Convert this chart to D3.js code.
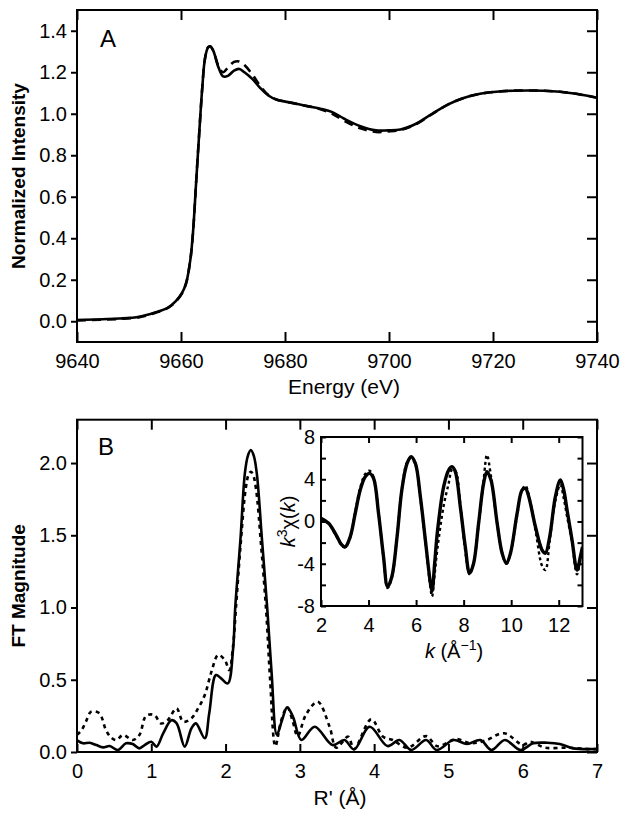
<!DOCTYPE html>
<html><head><meta charset="utf-8">
<script src="https://cdn.jsdelivr.net/npm/d3@7"></script>
<style>
body{margin:0;background:#fff;}
text{font-family:"Liberation Sans",Arial,Helvetica,sans-serif;fill:#000;}
</style></head>
<body>
<svg id="c" width="628" height="818"></svg>
<script>
// ---------- Panel A: XANES ----------
const energyA = [9640, 9648, 9652, 9655, 9657.5, 9659, 9660.2, 9661, 9661.8, 9662.3, 9662.9, 9663.5, 9664.1, 9664.6, 9665.2, 9665.6, 9666.2, 9667.2, 9668.1, 9669.1, 9670.2, 9671.2, 9672.2, 9673.7, 9675.2, 9676.8, 9678.3, 9680.6, 9683.7, 9686.8, 9689.1, 9691.4, 9694.5, 9697.5, 9699.8, 9702.2, 9705.2, 9708.3, 9711.4, 9714.5, 9717.5, 9720.6, 9723.7, 9726.8, 9729.8, 9732.9, 9736, 9740];
const solidA = [0.006, 0.013, 0.022, 0.042, 0.066, 0.097, 0.137, 0.185, 0.297, 0.425, 0.665, 0.905, 1.128, 1.264, 1.32, 1.325, 1.304, 1.224, 1.18, 1.184, 1.208, 1.216, 1.2, 1.168, 1.125, 1.088, 1.069, 1.056, 1.04, 1.024, 1.008, 0.976, 0.94, 0.92, 0.92, 0.924, 0.952, 1.0, 1.045, 1.077, 1.096, 1.106, 1.111, 1.112, 1.111, 1.106, 1.096, 1.077];
const dashedA = [0.004, 0.011, 0.02, 0.04, 0.064, 0.095, 0.135, 0.185, 0.297, 0.425, 0.665, 0.905, 1.128, 1.264, 1.32, 1.325, 1.304, 1.23, 1.2, 1.225, 1.25, 1.252, 1.235, 1.19, 1.135, 1.09, 1.069, 1.056, 1.04, 1.022, 1.0, 0.966, 0.93, 0.912, 0.915, 0.922, 0.95, 0.998, 1.045, 1.077, 1.096, 1.106, 1.111, 1.112, 1.111, 1.106, 1.096, 1.077];
const xTicksA = [9640, 9660, 9680, 9700, 9720, 9740];
const yTicksA = [0.0, 0.2, 0.4, 0.6, 0.8, 1.0, 1.2, 1.4];

// ---------- Panel B: FT magnitude ----------
const rSolid = [0, 0.08, 0.17, 0.26, 0.35, 0.44, 0.55, 0.66, 0.75, 0.84, 0.91, 1.0, 1.07, 1.16, 1.27, 1.34, 1.45, 1.54, 1.6, 1.72, 1.78, 1.87, 1.94, 2.03, 2.1, 2.13, 2.2, 2.26, 2.3, 2.34, 2.38, 2.42, 2.49, 2.56, 2.62, 2.69, 2.76, 2.83, 2.91, 3.02, 3.2, 3.44, 3.6, 3.73, 3.94, 4.18, 4.34, 4.5, 4.7, 4.84, 5.07, 5.25, 5.43, 5.58, 5.76, 5.97, 6.14, 6.33, 6.5, 6.68, 6.95, 7.0];
const ftSolid = [0.08, 0.06, 0.064, 0.048, 0.032, 0.041, 0.014, 0.06, 0.055, 0.025, 0.048, 0.071, 0.037, 0.129, 0.22, 0.2, 0.037, 0.164, 0.198, 0.095, 0.268, 0.533, 0.51, 0.475, 0.706, 1.0, 1.47, 1.93, 2.05, 2.09, 2.05, 1.93, 1.47, 1.0, 0.545, 0.12, 0.22, 0.31, 0.24, 0.083, 0.175, 0.048, 0.083, 0.018, 0.175, 0.041, 0.083, 0.014, 0.083, 0.014, 0.083, 0.055, 0.083, 0.014, 0.083, 0.014, 0.06, 0.064, 0.055, 0.025, 0.02, 0.02];
const rFit = [0, 0.06, 0.12, 0.19, 0.3, 0.39, 0.46, 0.53, 0.62, 0.75, 0.84, 0.93, 1.04, 1.13, 1.22, 1.34, 1.43, 1.54, 1.63, 1.72, 1.81, 1.9, 1.99, 2.05, 2.1, 2.14, 2.2, 2.27, 2.31, 2.34, 2.37, 2.41, 2.48, 2.55, 2.6, 2.67, 2.75, 2.83, 2.9, 2.97, 3.08, 3.24, 3.4, 3.49, 3.65, 3.73, 3.96, 4.12, 4.25, 4.45, 4.7, 4.85, 5.1, 5.3, 5.5, 5.75, 6.0, 6.1, 6.3, 6.6, 6.9, 7.0];
const ftFit = [0.12, 0.15, 0.21, 0.279, 0.268, 0.152, 0.1, 0.083, 0.118, 0.083, 0.118, 0.25, 0.256, 0.198, 0.22, 0.302, 0.21, 0.233, 0.302, 0.394, 0.556, 0.671, 0.637, 0.567, 0.73, 1.0, 1.42, 1.82, 1.92, 1.94, 1.92, 1.82, 1.42, 0.95, 0.5, 0.04, 0.22, 0.31, 0.22, 0.11, 0.256, 0.348, 0.175, 0.03, 0.106, 0.02, 0.226, 0.106, 0.083, 0.03, 0.11, 0.04, 0.09, 0.06, 0.08, 0.13, 0.05, 0.07, 0.03, 0.03, 0.02, 0.02];
const xTicksB = [0, 1, 2, 3, 4, 5, 6, 7];
const yTicksB = [0.0, 0.5, 1.0, 1.5, 2.0];

// ---------- Inset: k^3 chi(k) ----------
const kVals = [2.0, 2.32, 2.6, 2.88, 3.02, 3.23, 3.44, 3.65, 3.86, 4.04, 4.21, 4.42, 4.63, 4.8, 4.98, 5.2, 5.4, 5.62, 5.79, 5.97, 6.18, 6.39, 6.6, 6.67, 6.78, 6.9, 7.16, 7.37, 7.51, 7.65, 7.86, 8.07, 8.25, 8.42, 8.63, 8.84, 8.98, 9.15, 9.41, 9.62, 9.8, 9.97, 10.25, 10.46, 10.6, 10.74, 11.02, 11.3, 11.44, 11.62, 11.86, 12.07, 12.21, 12.35, 12.56, 12.77, 12.91, 13.0];
const chiExp = [0.3, -0.17, -1.12, -2.23, -2.39, -1.44, 0.77, 2.98, 4.24, 4.56, 4.09, 0.77, -3.33, -6.17, -5.23, -1.44, 2.98, 5.5, 6.13, 5.5, 2.35, -1.75, -5.8, -6.6, -4.0, -0.9, 3.3, 4.87, 5.19, 4.72, 1.4, -2.39, -4.91, -3.96, -0.17, 3.61, 4.72, 3.93, -0.17, -3.01, -3.96, -3.01, 0.77, 2.98, 3.14, 2.35, -0.5, -2.7, -3.0, -1.44, 2.35, 3.93, 2.98, 1.09, -1.75, -4.6, -3.33, -2.4];
const chiFit = [0.3, -0.2, -1.2, -2.3, -2.45, -1.5, 0.9, 3.2, 4.5, 4.8, 4.2, 0.8, -3.4, -6.3, -5.3, -1.4, 3.0, 5.6, 6.0, 5.4, 2.2, -1.9, -6.2, -7.1, -5.0, -2.5, 1.5, 3.6, 4.9, 4.8, 1.6, -2.8, -5.0, -3.9, -0.3, 3.9, 6.3, 4.3, -0.2, -3.0, -4.0, -3.0, 0.6, 3.0, 3.4, 2.5, -0.8, -4.2, -4.6, -1.8, 2.0, 3.5, 2.2, 0.5, -2.0, -5.0, -3.5, -2.5];
const xTicksInset = [2, 4, 6, 8, 10, 12];
const yTicksInset = [-8, -6, -4, -2, 0, 2, 4, 6, 8];

// ---------- Drawing ----------
const svg = d3.select("#c");
const FS = 20;

function frame(g, x0, x1, y0, y1) {
  g.append("rect").attr("x", x0).attr("y", y0).attr("width", x1 - x0).attr("height", y1 - y0)
    .attr("fill", "none").attr("stroke", "#000").attr("stroke-width", 2);
}
function styleAxis(sel) {
  sel.select(".domain").remove();
  sel.selectAll(".tick line").attr("stroke", "#000").attr("stroke-width", 2);
  sel.selectAll(".tick text").attr("font-size", FS).attr("fill", "#000")
    .style("font-family", '"Liberation Sans",Arial,sans-serif');
}
function drawLine(g, xs, ys, x, y, dash, w, clipId, curve) {
  const pts = xs.map((d, i) => [d, ys[i]]);
  const line = d3.line().x(d => x(d[0])).y(d => y(d[1])).curve(curve || d3.curveCatmullRom.alpha(0.5));
  g.append("path").attr("d", line(pts)).attr("fill", "none").attr("stroke", "#000")
    .attr("stroke-width", w).attr("stroke-dasharray", dash).attr("stroke-linejoin", "round")
    .attr("clip-path", "url(#" + clipId + ")");
}
function clip(id, x0, x1, y0, y1) {
  svg.append("clipPath").attr("id", id).append("rect")
    .attr("x", x0).attr("y", y0).attr("width", x1 - x0).attr("height", y1 - y0);
}

// Panel A
const A = {x0: 77, x1: 597, y0: 10, y1: 342};
const xA = d3.scaleLinear().domain([9640, 9740]).range([A.x0, A.x1]);
const yA = d3.scaleLinear().domain([-0.1, 1.5]).range([A.y1, A.y0]);
clip("clipA", A.x0, A.x1, A.y0, A.y1);
const gA = svg.append("g");
drawLine(gA, energyA, dashedA, xA, yA, "9,6", 2.6, "clipA");
drawLine(gA, energyA, solidA, xA, yA, null, 2.6, "clipA");
gA.append("g").attr("transform", `translate(${A.x0},0)`)
  .call(d3.axisLeft(yA).tickValues(yTicksA).tickSize(6).tickPadding(4).tickFormat(d3.format(".1f"))).call(styleAxis);
gA.append("g").attr("transform", `translate(0,${A.y1})`)
  .call(d3.axisBottom(xA).tickValues(xTicksA).tickSize(-10).tickPadding(12).tickFormat(d3.format("d"))).call(styleAxis);
gA.append("g").attr("transform", `translate(0,${A.y0})`)
  .call(d3.axisTop(xA).tickValues(xTicksA).tickSize(-10).tickFormat("")).call(styleAxis);
gA.append("g").attr("transform", `translate(${A.x1},0)`)
  .call(d3.axisRight(yA).tickValues(yTicksA).tickSize(-10).tickFormat("")).call(styleAxis);
frame(gA, A.x0, A.x1, A.y0, A.y1);
gA.append("text").attr("x", 100).attr("y", 47).attr("font-size", 24).text("A");
gA.append("text").attr("x", 344).attr("y", 394).attr("text-anchor", "middle").attr("font-size", 21).text("Energy (eV)");
gA.append("text").attr("transform", `translate(25,${(A.y0 + A.y1) / 2}) rotate(-90)`)
  .attr("text-anchor", "middle").attr("font-size", 19).attr("font-weight", "bold").text("Normalized Intensity");

// Panel B
const B = {x0: 77, x1: 597, y0: 419.7, y1: 752};
const xB = d3.scaleLinear().domain([0, 7]).range([B.x0, B.x1]);
const yB = d3.scaleLinear().domain([0, 2.3]).range([B.y1, B.y0]);
clip("clipB", B.x0, B.x1, B.y0, B.y1);
const gB = svg.append("g");
drawLine(gB, rFit, ftFit, xB, yB, "4,4", 2.6, "clipB");
drawLine(gB, rSolid, ftSolid, xB, yB, null, 2.6, "clipB");
gB.append("g").attr("transform", `translate(${B.x0},0)`)
  .call(d3.axisLeft(yB).tickValues(yTicksB).tickSize(6).tickPadding(4).tickFormat(d3.format(".1f"))).call(styleAxis);
gB.append("g").attr("transform", `translate(0,${B.y1})`)
  .call(d3.axisBottom(xB).tickValues(xTicksB).tickSize(-8).tickPadding(12).tickFormat(d3.format("d"))).call(styleAxis);
gB.append("g").attr("transform", `translate(0,${B.y0})`)
  .call(d3.axisTop(xB).tickValues(xTicksB).tickSize(-10).tickFormat("")).call(styleAxis);
gB.append("g").attr("transform", `translate(${B.x1},0)`)
  .call(d3.axisRight(yB).tickValues(yTicksB).tickSize(-10).tickFormat("")).call(styleAxis);
frame(gB, B.x0, B.x1, B.y0, B.y1);
gB.append("text").attr("x", 98).attr("y", 455).attr("font-size", 24).text("B");
gB.append("text").attr("x", 340).attr("y", 805).attr("text-anchor", "middle").attr("font-size", 21).text("R' (Å)");
gB.append("text").attr("transform", `translate(25,${(B.y0 + B.y1) / 2}) rotate(-90)`)
  .attr("text-anchor", "middle").attr("font-size", 19).attr("font-weight", "bold").text("FT Magnitude");

// Inset
const I = {x0: 321, x1: 582.5, y0: 437, y1: 606};
const xI = d3.scaleLinear().domain([2, 13]).range([I.x0, I.x1]);
const yI = d3.scaleLinear().domain([-8, 8]).range([I.y1, I.y0]);
clip("clipI", I.x0, I.x1, I.y0, I.y1);
const gI = svg.append("g");
gI.append("rect").attr("x", I.x0).attr("y", I.y0).attr("width", I.x1 - I.x0).attr("height", I.y1 - I.y0).attr("fill", "#fff");
drawLine(gI, kVals, chiFit, xI, yI, "3,3", 2.4, "clipI");
drawLine(gI, kVals, chiExp, xI, yI, null, 3.4, "clipI");
gI.append("g").attr("transform", `translate(${I.x0},0)`)
  .call(d3.axisLeft(yI).tickValues(yTicksInset).tickSize(-5).tickPadding(6)
    .tickFormat(d => d % 4 === 0 ? d3.format("d")(d).replace("−", "-") : "")).call(styleAxis);
gI.append("g").attr("transform", `translate(0,${I.y1})`)
  .call(d3.axisBottom(xI).tickValues(xTicksInset).tickSize(-6).tickPadding(12).tickFormat(d3.format("d"))).call(styleAxis);
gI.append("g").attr("transform", `translate(0,${I.y0})`)
  .call(d3.axisTop(xI).tickValues(xTicksInset).tickSize(-6).tickFormat("")).call(styleAxis);
gI.append("g").attr("transform", `translate(${I.x1},0)`)
  .call(d3.axisRight(yI).tickValues(yTicksInset).tickSize(-5).tickFormat("")).call(styleAxis);
frame(gI, I.x0, I.x1, I.y0, I.y1);

const kl = gI.append("text").attr("x", 454).attr("y", 658).attr("text-anchor", "middle").attr("font-size", 20);
kl.append("tspan").attr("font-style", "italic").text("k");
kl.append("tspan").text(" (Å");
kl.append("tspan").attr("dy", -8).attr("font-size", 14).text("\u22121");
kl.append("tspan").attr("dy", 8).text(")");

const cl = gI.append("text").attr("transform", `translate(295,${(I.y0 + I.y1) / 2}) rotate(-90)`)
  .attr("text-anchor", "middle").attr("font-size", 20);
cl.append("tspan").attr("font-style", "italic").text("k");
cl.append("tspan").attr("dy", -8).attr("font-size", 14).text("3");
cl.append("tspan").attr("dy", 8).text("χ(");
cl.append("tspan").attr("font-style", "italic").text("k");
cl.append("tspan").text(")");
</script>
</body></html>
